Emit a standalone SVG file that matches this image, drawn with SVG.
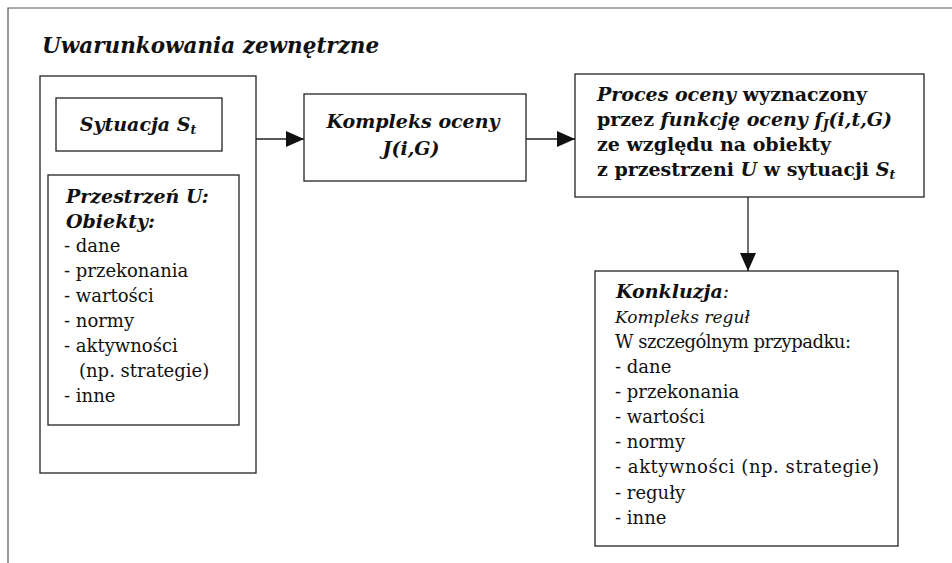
<svg xmlns="http://www.w3.org/2000/svg" width="952" height="563" viewBox="0 0 952 563">
<style>
  .box { fill: none; stroke: #222; stroke-width: 1.3; }
  .frame { fill: none; stroke: #555; stroke-width: 1.2; }
  .conn { fill: none; stroke: #222; stroke-width: 1.3; }
  text { font-family: "DejaVu Serif", "Liberation Serif", serif; fill: #111; }
  .bi { font-weight: bold; font-style: italic; }
  .b { font-weight: bold; font-style: normal; }
  .i { font-style: italic; font-weight: normal; }
  .r { font-size: 18px; }
  .ri { font-size: 17px; }
  .title { font-size: 21.5px; }
  .hd { font-size: 19px; }
  .pb { font-size: 19px; }
  .sub { font-size: 12.5px; }
</style>
<defs>
  <marker id="ah" markerUnits="userSpaceOnUse" markerWidth="18" markerHeight="16" refX="18" refY="8" orient="auto">
    <polygon points="0,0 18,8 0,16" fill="#111"/>
  </marker>
</defs>
<rect width="952" height="563" fill="#fff"/>

<g id="frame">
  <polyline class="frame" points="8,563 8,8 952,8"/>
  <text class="bi title" x="42" y="53">Uwarunkowania zewnętrzne</text>
</g>

<g id="left-container">
  <rect class="box" x="40" y="76" width="216" height="397"/>
</g>

<g id="sytuacja">
  <rect class="box" x="56" y="98" width="166" height="53"/>
  <text class="bi hd" x="138" y="131" text-anchor="middle">Sytuacja S<tspan class="sub" dy="3">t</tspan></text>
</g>

<g id="przestrzen">
  <rect class="box" x="48" y="175" width="191" height="250"/>
  <text class="bi hd" x="66" y="203">Przestrzeń U:</text>
  <text class="bi hd" x="66" y="228">Obiekty:</text>
  <text class="r" x="64" y="252">- dane</text>
  <text class="r" x="64" y="277">- przekonania</text>
  <text class="r" x="64" y="302">- wartości</text>
  <text class="r" x="64" y="327">- normy</text>
  <text class="r" x="64" y="352">- aktywności</text>
  <text class="r" x="79" y="377">(np. strategie)</text>
  <text class="r" x="64" y="402">- inne</text>
</g>

<g id="kompleks-oceny">
  <rect class="box" x="304" y="94" width="222" height="87"/>
  <text class="bi hd" x="413" y="128" text-anchor="middle">Kompleks oceny</text>
  <text class="bi hd" x="411" y="155" text-anchor="middle">J(i,G)</text>
</g>

<g id="proces-oceny">
  <rect class="box" x="575" y="74" width="349" height="123"/>
  <text class="pb" x="597" y="101"><tspan class="bi">Proces oceny</tspan><tspan class="b"> wyznaczony</tspan></text>
  <text class="pb" x="597" y="126"><tspan class="b">przez </tspan><tspan class="bi">funkcję oceny f</tspan><tspan class="bi sub" dy="3">J</tspan><tspan class="bi" dy="-3">(i,t,G)</tspan></text>
  <text class="pb b" x="597" y="151">ze względu na obiekty</text>
  <text class="pb" x="597" y="176"><tspan class="b">z przestrzeni </tspan><tspan class="bi">U</tspan><tspan class="b"> w sytuacji </tspan><tspan class="bi">S</tspan><tspan class="bi sub" dy="3">t</tspan></text>
</g>

<g id="konkluzja">
  <rect class="box" x="595" y="271" width="303" height="275"/>
  <text class="bi hd" x="616" y="298">Konkluzja<tspan class="i">:</tspan></text>
  <text class="i ri" x="615" y="323">Kompleks reguł</text>
  <text class="r" x="615" y="348" textLength="236" lengthAdjust="spacing">W szczególnym przypadku:</text>
  <text class="r" x="615" y="373">- dane</text>
  <text class="r" x="615" y="398">- przekonania</text>
  <text class="r" x="615" y="423">- wartości</text>
  <text class="r" x="615" y="448">- normy</text>
  <text class="r" x="615" y="473" textLength="264" lengthAdjust="spacing">- aktywności (np. strategie)</text>
  <text class="r" x="615" y="499">- reguły</text>
  <text class="r" x="615" y="524">- inne</text>
</g>

<g id="connectors">
  <line class="conn" x1="256" y1="139" x2="304" y2="139" marker-end="url(#ah)"/>
  <line class="conn" x1="526" y1="139" x2="575" y2="139" marker-end="url(#ah)"/>
  <line class="conn" x1="748" y1="197" x2="748" y2="271" marker-end="url(#ah)"/>
</g>
</svg>
